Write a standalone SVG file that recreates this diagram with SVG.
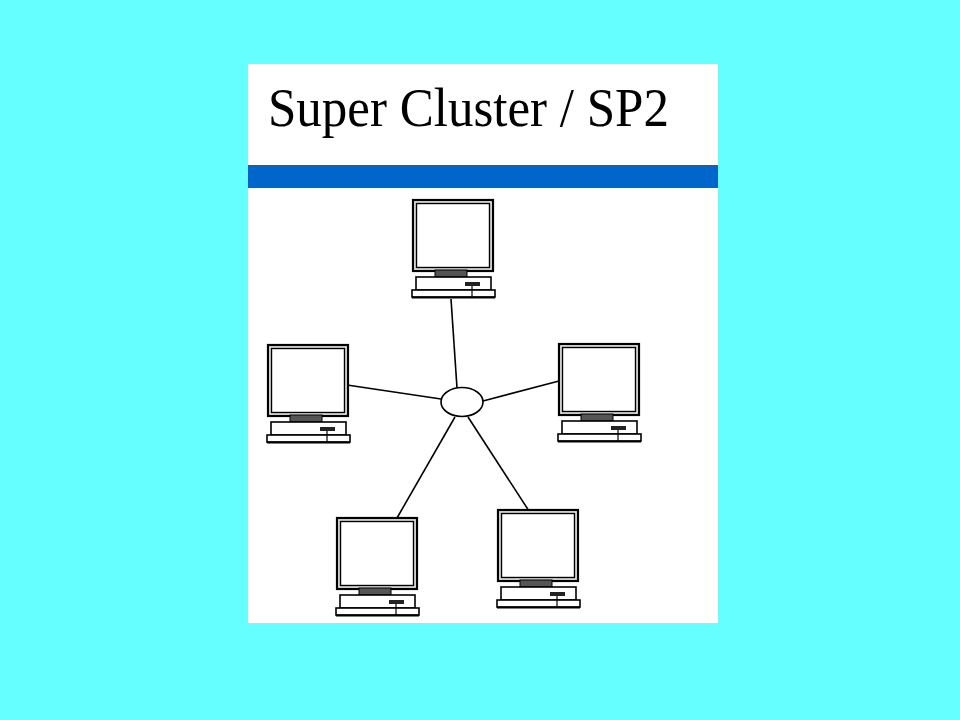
<svg xmlns="http://www.w3.org/2000/svg" xmlns:xlink="http://www.w3.org/1999/xlink" width="960" height="720" viewBox="0 0 960 720">
<style>
.frame{fill:#e4e4e4;stroke:#000;stroke-width:2.2}
.screen{fill:#fff;stroke:#000;stroke-width:1.4}
.stand{fill:#555;stroke:#000;stroke-width:1}
.box{fill:#fff;stroke:#000;stroke-width:1.6}
.slot{fill:#222}
.foot{fill:#fff;stroke:#000;stroke-width:1.6}
.link{stroke:#000;stroke-width:1.6;fill:none}
.title{font-family:"Liberation Serif","Times New Roman",serif;font-size:51px;fill:#000}
</style>
<defs>
<g id="pc">
<rect class="frame" x="0" y="0" width="80" height="71"/>
<rect class="screen" x="3.5" y="3.5" width="73" height="64"/>
<rect class="stand" x="22" y="70" width="32" height="7"/>
<rect class="box" x="3" y="77" width="75" height="13"/>
<rect class="slot" x="52" y="82" width="15" height="4"/>
<rect class="foot" x="-1" y="90" width="83" height="7"/>
<line x1="-1" y1="97.5" x2="82" y2="97.5" stroke="#000" stroke-width="2"/>
<line x1="59" y1="86" x2="59" y2="97" stroke="#000" stroke-width="1.2"/>
</g>
</defs>
<rect x="0" y="0" width="960" height="720" fill="#66FFFF"/>
<g id="panel">
<rect x="248" y="64" width="470" height="559" fill="#fff"/>
<rect x="248" y="165" width="470" height="23" fill="#0066CC"/>
<text class="title" x="268" y="126" transform="translate(0,126) scale(1,1.06) translate(0,-126)">Super Cluster / SP2</text>
</g>
<g id="connectors">
<line class="link" x1="451" y1="299" x2="457" y2="388"/>
<line class="link" x1="347" y1="385" x2="441" y2="399"/>
<line class="link" x1="483" y1="401" x2="559" y2="381"/>
<line class="link" x1="455" y1="417" x2="397" y2="518"/>
<line class="link" x1="468" y1="417" x2="529" y2="511"/>
</g>
<g id="hub">
<ellipse cx="462" cy="402" rx="21" ry="14.5" fill="#fff" stroke="#000" stroke-width="1.6"/>
</g>
<g id="pc-top"><use xlink:href="#pc" x="413" y="200"/></g>
<g id="pc-left"><use xlink:href="#pc" x="268" y="345"/></g>
<g id="pc-right"><use xlink:href="#pc" x="559" y="344"/></g>
<g id="pc-bottom-left"><use xlink:href="#pc" x="337" y="518"/></g>
<g id="pc-bottom-right"><use xlink:href="#pc" x="498" y="510"/></g>
</svg>
